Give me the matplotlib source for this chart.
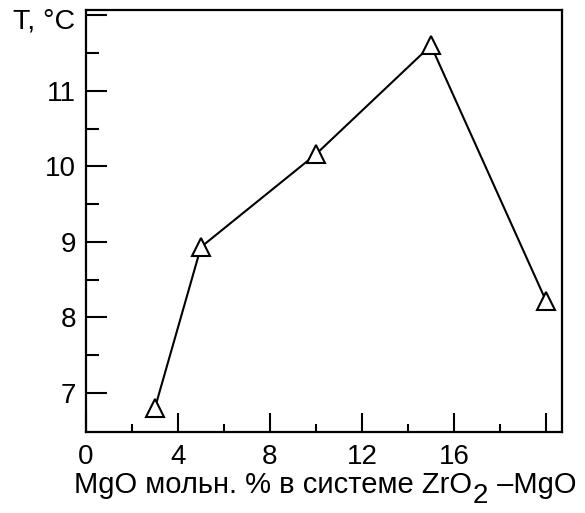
import matplotlib
matplotlib.use("Agg")
import matplotlib.pyplot as plt

plt.rcParams['font.family'] = ['Liberation Sans', 'DejaVu Sans']

# MgO content, mol. %, and temperature
mgo_content = [3, 5, 10, 15, 20]
temperature = [6.8, 8.93, 10.16, 11.6, 8.22]

x_major = [0, 4, 8, 12, 16, 20]
x_labels = ['0', '4', '8', '12', '16', '']
y_major = [7, 8, 9, 10, 11, 12]
y_labels = ['7', '8', '9', '10', '11', '']

W, H = 585, 513
fig = plt.figure(figsize=(W / 100, H / 100), dpi=100)
ax = fig.add_axes([86 / W, 1 - 432 / H, (562 - 86) / W, (432 - 10) / H])

ax.plot(mgo_content, temperature, color='black', linewidth=1.5,
        marker='^', markersize=13, markerfacecolor='white',
        markeredgecolor='black', markeredgewidth=1.5)

ax.set_xlim(0, 20.7)
ax.set_ylim(6.48, 12.07)

ax.set_xticks(x_major)
ax.set_xticklabels(x_labels)
ax.set_xticks([2, 6, 10, 14, 18], minor=True)
ax.set_yticks(y_major)
ax.set_yticklabels(y_labels)
ax.set_yticks([7.5, 8.5, 9.5, 10.5, 11.5], minor=True)

ax.tick_params(which='major', direction='in', width=1.5, labelsize=20)
ax.tick_params(axis='x', which='major', length=14, pad=9)
ax.tick_params(axis='x', which='minor', direction='in', length=6, width=1.5)
ax.tick_params(axis='y', which='major', length=15, pad=7)
ax.tick_params(axis='y', which='minor', direction='in', length=9, width=1.5)

for spine in ax.spines.values():
    spine.set_linewidth(1.6)

# axis title at the top of the y axis
fig.text(75 / W, 1 - 22 / H, 'T, °C', fontsize=20.5, ha='right', va='center')

# x axis title with a lowered subscript
t1 = fig.text(74 / W, 1 - 493 / H, 'MgO мольн. % в системе ZrO',
              fontsize=21, ha='left', va='baseline')
sub = ax.annotate('2', xy=(1, 0), xycoords=t1, xytext=(0.5, -7),
                  textcoords='offset points', fontsize=20,
                  ha='left', va='bottom', annotation_clip=False)
ax.annotate(' –MgO', xy=(1, 0), xycoords=(sub, t1), xytext=(1, 0),
            textcoords='offset points', fontsize=21,
            ha='left', va='bottom', annotation_clip=False)

fig.savefig('out.png', dpi=100)
